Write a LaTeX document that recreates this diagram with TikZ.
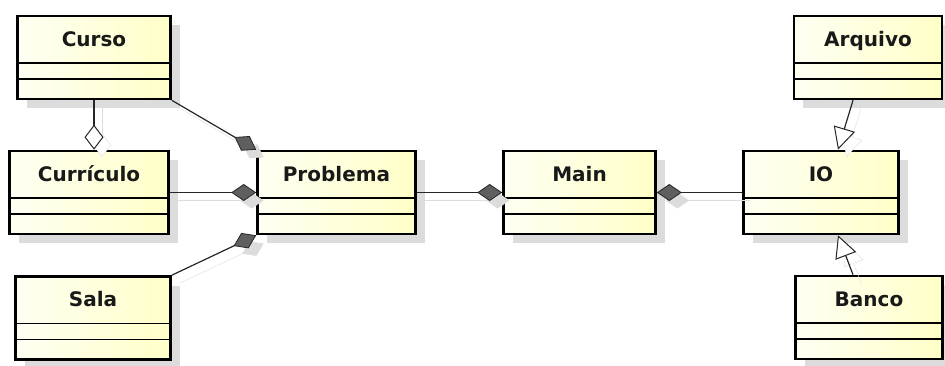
\documentclass[tikz,border=0pt]{standalone}
\usepackage{fontspec}
\setmainfont{DejaVu Sans}
\usepackage{tikz}
\usetikzlibrary{positioning,shapes,arrows.meta,shadows}
\definecolor{classleft}{RGB}{255,255,243}
\definecolor{classright}{RGB}{255,255,200}
\definecolor{shadowgray}{RGB}{220,220,220}
\definecolor{diamondgray}{RGB}{95,95,95}
\tikzstyle{cls}=[%
      rectangle, draw=black, line width=2.6pt, left color=classleft, right color=classright,
      drop shadow={shadow xshift=9pt, shadow yshift=-9pt, fill=shadowgray, opacity=1},
      font=\fontsize{20pt}{24pt}\selectfont\bfseries, text=black!90,
      inner ysep=0pt, text height=30pt, text depth=53pt,
      path picture={
        \draw[line width=1.3pt] ([yshift=-47pt]path picture bounding box.north west) -- ([yshift=-47pt]path picture bounding box.north east);
        \draw[line width=1.3pt] ([yshift=-63pt]path picture bounding box.north west) -- ([yshift=-63pt]path picture bounding box.north east);
      }
]
\tikzstyle{link}=[draw=black!85, line width=1.2pt]
\tikzstyle{comp}=[%
      link, -{Diamond[length=25pt,width=17pt,line width=0.8pt,fill=diamondgray]},
      preaction={draw=shadowgray, -{Diamond[length=25pt,width=17pt,fill=shadowgray]},
                 transform canvas={shift={(8pt,-8pt)}}}
]
\tikzstyle{agg}=[%
      link, -{Diamond[open,length=25pt,width=19pt,line width=1pt,fill=white]},
      preaction={draw=shadowgray, -{Diamond[open,length=25pt,width=19pt,fill=white]},
                 transform canvas={shift={(8pt,-8pt)}}}
]
\tikzstyle{gen}=[%
      link, -{Triangle[open,length=22pt,width=22pt,line width=1pt,fill=white]},
      preaction={draw=shadowgray, -{Triangle[open,length=22pt,width=22pt,fill=white]},
                 transform canvas={shift={(8pt,-8pt)}}}
]
\begin{document}
\begin{tikzpicture}[x=1pt, y=-1pt]
    \useasboundingbox (0,0) rectangle (945,365);

    \node[cls, minimum width=153pt] (curso)     at (94,57.5)   {Curso};
    \node[cls, minimum width=159pt] (curriculo) at (89,192.5)  {Currículo};
    \node[cls, minimum width=155pt] (sala)      at (93,318)    {Sala};
    \node[cls, minimum width=158pt] (problema)  at (336.5,192.5) {Problema};
    \node[cls, minimum width=152pt] (main)      at (579.5,192.5) {Main};
    \node[cls, minimum width=155pt] (io)        at (821,192.5) {IO};
    \node[cls, minimum width=148pt] (arquivo)   at (868,57.5)  {Arquivo};
    \node[cls, minimum width=147pt] (banco)     at (869,317.5) {Banco};

    \path (curso.south)              edge[agg]  (curso.south |- curriculo.north)
          (curso.south east)         edge[comp] (problema.north west)
          (curriculo.east)           edge[comp] (problema.west)
          (sala.north east)          edge[comp] (problema.south west)
          (problema.east)            edge[comp] (main.west)
          (io.west)                  edge[comp] (main.east)
          ([xshift=-15pt]arquivo.south) edge[gen] ([xshift=17pt]io.north)
          ([xshift=-16pt]banco.north)   edge[gen] ([xshift=17pt]io.south)
    ;

\end{tikzpicture}
\end{document}
